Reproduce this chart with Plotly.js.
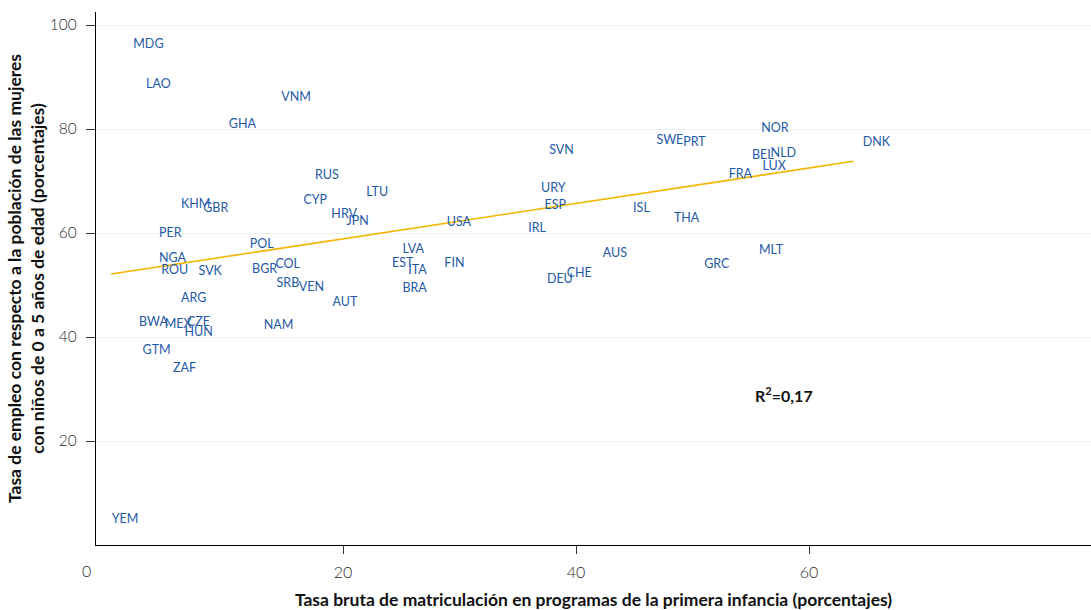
<!DOCTYPE html>
<html>
<head>
<meta charset="utf-8">
<script src="https://cdn.plot.ly/plotly-3.0.1.min.js"></script>
<style>html,body{margin:0;padding:0;background:#fff;}</style>
</head>
<body>
<div id="chart" style="width:1091px;height:610px;"></div>
<script>
// Country codes
const countries = ["MDG","LAO","VNM","GHA","RUS","LTU","CYP","KHM","GBR","HRV","JPN","PER","POL","NGA","ROU","SVK","BGR","COL","SRB","VEN","ARG","AUT","BWA","MEX","CZE","HUN","NAM","GTM","ZAF","YEM","SVN","SWE","PRT","NOR","BEL","NLD","LUX","FRA","URY","ESP","ISL","THA","USA","IRL","LVA","EST","ITA","FIN","BRA","AUS","CHE","DEU","GRC","MLT","DNK"];
// Gross enrolment ratio in early childhood programmes (%)
const enrolment = [2.0,3.1,14.7,10.2,17.6,22.0,16.6,6.1,8.0,19.0,20.3,4.2,12.0,4.2,4.4,7.6,12.2,14.2,14.3,16.2,6.1,19.1,2.5,4.7,6.6,6.4,13.2,2.8,5.4,0.15,37.7,46.9,49.2,55.9,55.1,56.7,56.0,53.1,37.0,37.3,44.9,48.4,28.9,35.9,25.1,24.2,25.6,28.7,25.1,42.3,39.2,37.5,51.0,55.7,64.6];
// Employment rate of women with children aged 0-5 (%)
const employment = [96.2,88.4,86.0,80.8,70.9,67.8,66.2,65.5,64.6,63.4,62.1,59.8,57.8,55.0,52.8,52.5,53.0,53.9,50.3,49.4,47.4,46.6,42.8,42.3,42.8,40.8,42.1,37.3,33.9,4.9,75.7,77.8,77.4,80.0,74.8,75.2,72.8,71.1,68.5,65.2,64.6,62.7,61.9,60.8,56.7,54.0,52.7,54.1,49.2,56.0,52.2,51.0,53.8,56.5,77.4];
// Fitted line endpoints
const fitX = [0.1, 63.8];
const fitY = [52.1, 73.8];
const xTicks = [20, 40, 60];
const yTicks = [20, 40, 60, 80, 100];

const FONT = "Lato, 'Open Sans', sans-serif";

const traces = [
  {
    type: "scatter", mode: "lines", x: fitX, y: fitY,
    line: {color: "#f2b400", width: 1.6}, hoverinfo: "skip", showlegend: false
  },
  {
    type: "scatter", mode: "text", x: enrolment, y: employment, text: countries,
    textposition: "middle right",
    textfont: {family: FONT, size: 12.5, color: "#1f5aa6"},
    showlegend: false
  }
];

const layout = {
  width: 1091, height: 610,
  margin: {l: 96, r: 0, t: 12, b: 65},
  paper_bgcolor: "#fff", plot_bgcolor: "#fff",
  showlegend: false,
  xaxis: {
    range: [-1.2, 84.2], tickvals: xTicks, ticktext: xTicks.map(String),
    showgrid: false, zeroline: false,
    showline: true, linecolor: "#000", linewidth: 1.2,
    ticks: "outside", ticklen: 8, tickcolor: "#333", tickwidth: 1,
    tickfont: {family: FONT, size: 16, color: "#2a2a2a", weight: 300},
    ticklabelstandoff: 5,
    title: {text: "Tasa bruta de matriculación en programas de la primera infancia (porcentajes)",
            font: {family: FONT, size: 17.5, color: "#111", weight: "bold"}, standoff: 13}
  },
  yaxis: {
    range: [0, 102.5], tickvals: yTicks, ticktext: yTicks.map(String),
    showgrid: true, gridcolor: "#eaf1f1", gridwidth: 1, zeroline: false,
    showline: true, linecolor: "#000", linewidth: 1.2,
    ticks: "outside", ticklen: 9, tickcolor: "#333", tickwidth: 1,
    tickfont: {family: FONT, size: 15.5, color: "#2a2a2a", weight: 300},
    ticklabelstandoff: 6,
    title: {text: "Tasa de empleo con respecto a la población de las mujeres<br>con niños de 0 a 5 años de edad (porcentajes)",
            font: {family: FONT, size: 17.5, color: "#111", weight: "bold"}, standoff: 0}
  },
  annotations: [
    {xref: "paper", yref: "paper", x: -0.01, y: -0.047, text: "0", showarrow: false,
     xanchor: "center", yanchor: "middle",
     font: {family: FONT, size: 16, color: "#2a2a2a", weight: 300}},
    {xref: "x", yref: "y", x: 55.2, y: 29, text: "R<sup>2</sup>=0,17", showarrow: false,
     xanchor: "left", yanchor: "middle",
     font: {family: FONT, size: 16, color: "#111", weight: "bold"}}
  ]
};

Plotly.newPlot("chart", traces, layout, {displayModeBar: false, staticPlot: true});
</script>
</body>
</html>
